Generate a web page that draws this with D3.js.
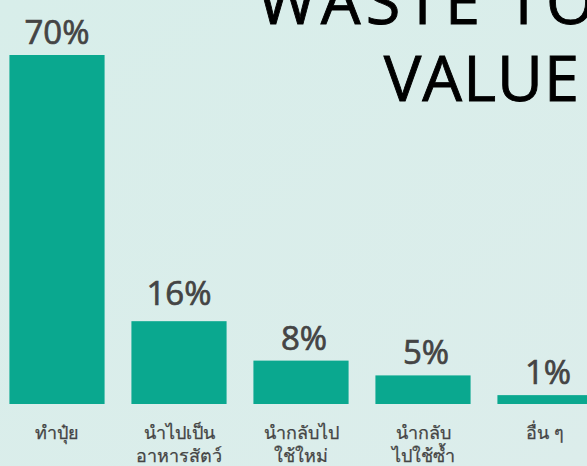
<!DOCTYPE html>
<meta charset="utf-8">
<style>
    body {
        margin: 0;
        background: #daeeea;
        font-family: "Open Sans", "Noto Sans", sans-serif;
    }
    .bar {
        fill: #0aa88f;
    }
    .pct {
        fill: #444;
        stroke: #444;
        stroke-width: 0.7;
        font-size: 33px;
        text-anchor: middle;
    }
    .cat {
        fill: #444;
        stroke: #444;
        stroke-width: 0.25;
        font-size: 18px;
        text-anchor: middle;
    }
    .title {
        fill: #000;
        stroke: #000;
        stroke-width: 0.9;
        font-size: 63px;
        text-anchor: end;
    }
</style>
<body>
<script src="https://d3js.org/d3.v7.min.js"></script>
<script>

    // data
    var categories = ["ทำปุ๋ย", "นำไปเป็น|อาหารสัตว์", "นำกลับไป|ใช้ใหม่", "นำกลับ|ไปใช้ซ้ำ", "อื่น ๆ"];
    var values = [70, 16, 8, 5, 1];
    var valueLabels = ["70%", "16%", "8%", "5%", "1%"];
    var titleLines = ["WASTE TO", "VALUE"];

    var width = 587,
        height = 466;

    var svg = d3.select("body")
        .append("svg")
        .attr("width", width)
        .attr("height", height);

    // soft background
    var defs = svg.append("defs");
    var grad = defs.append("linearGradient")
        .attr("id", "bg")
        .attr("x1", 0).attr("y1", 0)
        .attr("x2", 1).attr("y2", 1);
    grad.append("stop").attr("offset", "0%").attr("stop-color", "#d8eeea");
    grad.append("stop").attr("offset", "100%").attr("stop-color", "#dcedeb");
    svg.append("rect")
        .attr("width", width)
        .attr("height", height)
        .attr("fill", "url(#bg)");

    // bars step 122px, width 95px; last bar runs off the right edge
    var x = d3.scaleBand()
        .domain(d3.range(categories.length))
        .range([-4, 606])
        .paddingInner(0.22)
        .paddingOuter(0.11);

    var y = d3.scaleLinear()
        .domain([-0.8, 70])
        .range([404, 55]);

    // title (first line runs past the right edge, like the source)
    svg.selectAll(".title")
        .data(titleLines)
        .enter().append("text")
        .attr("class", "title")
        .attr("x", function (d, i) { return i === 0 ? 600 : 580; })
        .attr("y", function (d, i) { return 24 + i * 77; })
        .attr("letter-spacing", function (d, i) { return i === 0 ? "5px" : "1px"; })
        .text(function (d) { return d; });

    svg.selectAll(".bar")
        .data(values)
        .enter().append("rect")
        .attr("class", "bar")
        .attr("x", function (d, i) { return x(i); })
        .attr("width", x.bandwidth())
        .attr("y", function (d) { return y(d); })
        .attr("height", function (d) { return y(-0.8) - y(d); });

    svg.selectAll(".pct")
        .data(values)
        .enter().append("text")
        .attr("class", "pct")
        .attr("x", function (d, i) { return x(i) + x.bandwidth() / 2 + (i > 1 ? 3 : 0); })
        .attr("y", function (d, i) { return y(d) - (i === 1 ? 16 : 11); })
        .text(function (d, i) { return valueLabels[i]; });

    var cats = svg.selectAll(".cat")
        .data(categories)
        .enter().append("text")
        .attr("class", "cat")
        .attr("x", function (d, i) { return x(i) + x.bandwidth() / 2; })
        .attr("y", 439);

    cats.selectAll("tspan")
        .data(function (d) { return d.split("|"); })
        .enter().append("tspan")
        .attr("x", function () { return d3.select(this.parentNode).attr("x"); })
        .attr("dy", function (d, i) { return i === 0 ? 0 : 23; })
        .text(function (d) { return d; });

</script>
</body>
